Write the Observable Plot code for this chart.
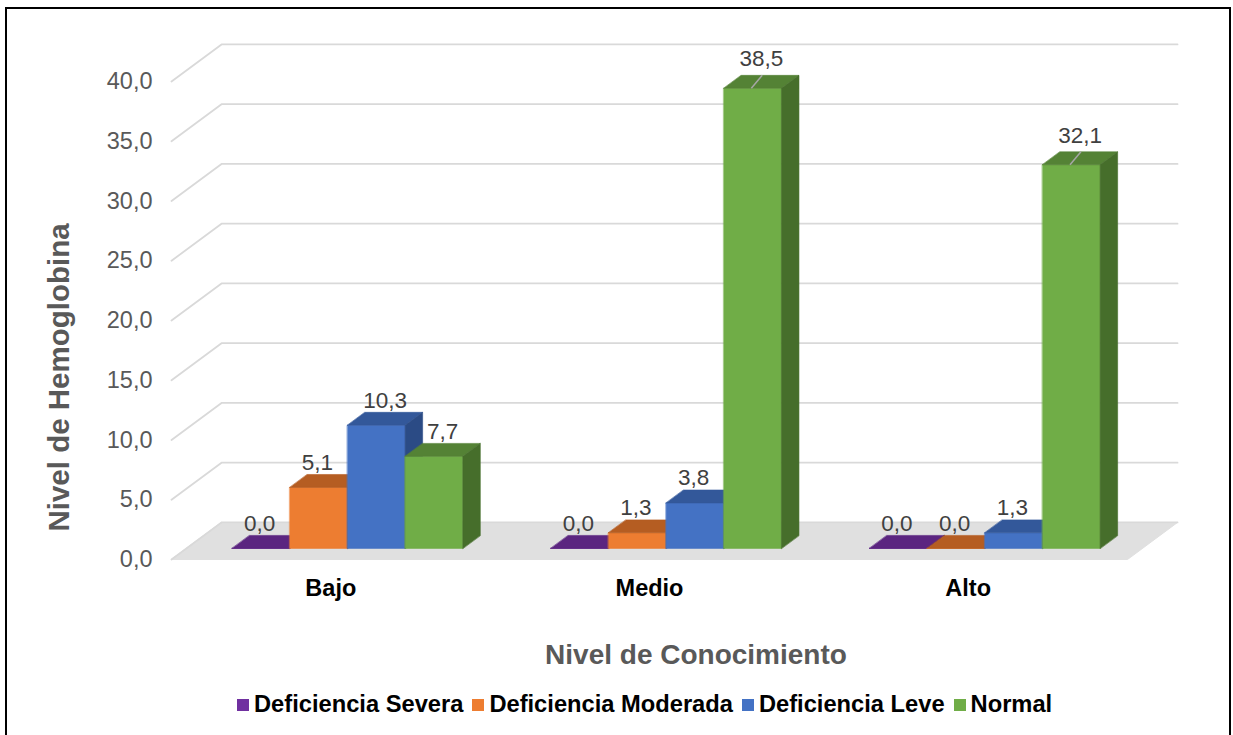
<!DOCTYPE html>
<html>
<head>
<meta charset="utf-8">
<script src="https://cdn.jsdelivr.net/npm/d3@7"></script>
<script src="https://cdn.jsdelivr.net/npm/@observablehq/plot@0.6"></script>
<style>
html, body { margin: 0; padding: 0; overflow: hidden; background: #fff; width: 1233px; height: 735px; }
body { position: relative; font-family: Arial, "Liberation Sans", sans-serif; }
#chart { position: absolute; left: 0; top: 0; }
#frame { position: absolute; left: 5px; top: 7px; width: 1226px; height: 740px; border: 2px solid #000; box-sizing: border-box; pointer-events: none; }
#xtitle { position: absolute; left: 396px; width: 600px; top: 641px; text-align: center; font-weight: bold; font-size: 28px; line-height: 28px; color: #595959; font-family: Arial, "Liberation Sans", sans-serif; }
#legend { position: absolute; left: 237px; top: 691px; }
#legend .lg-swatches { font-family: Arial, "Liberation Sans", sans-serif; font-size: 23.7px; font-weight: bold; color: #000; margin: 0; min-height: 0; flex-wrap: nowrap; width: 1000px; }
#legend .lg-swatch { margin-right: 9px; }
#legend .lg-swatch > svg { margin-right: 5px; }
</style>
</head>
<body>
<div id="chart"></div>
<div id="xtitle">Nivel de Conocimiento</div>
<div id="legend"></div>
<div id="frame"></div>
<script>
// ---- Data ----
const categories = ["Bajo", "Medio", "Alto"];
const series = ["Deficiencia Severa", "Deficiencia Moderada", "Deficiencia Leve", "Normal"];
const severa   = [0.0, 0.0, 0.0];
const moderada = [5.1, 1.3, 0.0];
const leve     = [10.3, 3.8, 1.3];
const normal   = [7.7, 38.5, 32.1];
const yTicks = [0, 5, 10, 15, 20, 25, 30, 35, 40];

// ---- Styles ----
const frontColors = ["#7030a0", "#ed7d31", "#4472c4", "#70ad47"];
const topColors   = ["#5b2580", "#b55d22", "#33589a", "#548235"];
const sideColors  = ["#4a1e6a", "#9c4f1b", "#2b4b85", "#466e2b"];

// ---- 3D geometry (in data units) ----
const DEPTH_X = 0.157;  // category units for full floor depth
const DEPTH_Y = 3.10;   // value units for full floor depth
const Z0 = 0.30, Z1 = 0.65; // bar front / back depth
const BAR_W = 0.181;
const GROUP_SHIFT = 0.005;

const seriesValues = [severa, moderada, leve, normal];
const bars = categories.flatMap((c, i) => series.map((s, j) => {
  const x0 = i - 2 * BAR_W + GROUP_SHIFT + j * BAR_W;
  return {cat: c, i, j, s, v: seriesValues[j][i], x0, x1: x0 + BAR_W};
}));

const P = (x, y, z) => ({x: x + z * DEPTH_X, y: y + z * DEPTH_Y});

// floor polygon
const floor = [[-0.5, 0, 0], [2.5, 0, 0], [2.5, 0, 1], [-0.5, 0, 1]].map(([x, y, z]) => P(x, y, z));

// gridlines (left side wall + back wall)
const grid = yTicks.flatMap(t => [[-0.5, t, 0], [-0.5, t, 1], [2.5, t, 1]].map(([x, y, z]) => ({t, ...P(x, y, z)})));

// bar faces
const faces = [];
bars.forEach((b, k) => {
  const {x0, x1, v, j} = b;
  const add = (name, color, pts) => pts.forEach(([x, y, z]) => faces.push({id: `${k}-${name}`, color, ...P(x, y, z)}));
  add("front", frontColors[j], [[x0, 0, Z0], [x1, 0, Z0], [x1, v, Z0], [x0, v, Z0]]);
  add("top", topColors[j], [[x0, v, Z0], [x1, v, Z0], [x1, v, Z1], [x0, v, Z1]]);
  add("side", sideColors[j], [[x1, 0, Z0], [x1, v, Z0], [x1, v, Z1], [x1, 0, Z1]]);
});

const fmt = v => v.toFixed(1).replace(".", ",");
const frontCenter = b => (b.x0 + b.x1) / 2 + Z0 * DEPTH_X;
const labelX = b => frontCenter(b) + (b.v > 7 ? (Z1 - Z0) * DEPTH_X / 2 : -0.004);
const topBackY = b => b.v + Z1 * DEPTH_Y;
const tall = bars.filter(b => b.v > 20);
const shortBars = bars.filter(b => b.v <= 20);

const chart = Plot.plot({
  width: 1233,
  height: 640,
  marginLeft: 171,
  marginRight: 106,
  marginTop: 81,
  marginBottom: 81,
  x: {domain: [-0.5, 2.5]},
  y: {domain: [0, 40]},
  color: {type: "identity"},
  style: {fontFamily: "Arial, 'Liberation Sans', sans-serif", background: "transparent", overflow: "visible"},
  marks: [
    Plot.line(floor, {x: "x", y: "y", fill: "#e0e0e0", stroke: "#e0e0e0", strokeWidth: 1, curve: "linear-closed"}),
    Plot.line(grid, {x: "x", y: "y", z: "t", stroke: "#d9d9d9", strokeWidth: 1.8}),
    Plot.line(faces, {x: "x", y: "y", z: "id", fill: "color", stroke: "color", strokeWidth: 0.6, curve: "linear-closed"}),
    Plot.link(tall, {
      x1: b => frontCenter(b) - 0.004, y1: b => b.v + Z0 * DEPTH_Y,
      x2: b => frontCenter(b) + (Z1 - Z0) * DEPTH_X * 0.55, y2: b => topBackY(b),
      stroke: "#a6a6a6", strokeWidth: 1.5
    }),
    Plot.text(shortBars, {x: labelX, y: topBackY, text: b => fmt(b.v), dy: -12, fontSize: 22.5, fill: "#404040"}),
    Plot.text(tall, {x: labelX, y: topBackY, text: b => fmt(b.v), dy: -16.5, fontSize: 22.5, fill: "#404040"}),
    Plot.axisY(yTicks, {tickSize: 0, tickPadding: 19, tickFormat: fmt, fontSize: 23.5, fill: "#595959", label: null}),
    Plot.axisX([0, 1, 2], {tickSize: 0, tickPadding: 20, tickFormat: i => categories[i], fontSize: 23.5, fontWeight: "bold", fill: "#000", label: null}),
    Plot.text(["Nivel de Hemoglobina"], {text: d => d, frameAnchor: "left", textAnchor: "middle", rotate: -90, dx: -112, dy: 57, fontSize: 29.5, fontWeight: "bold", fill: "#595959"})
  ]
});
document.getElementById("chart").appendChild(chart);

const legend = Plot.legend({
  color: {type: "ordinal", domain: series, range: frontColors},
  legend: "swatches",
  swatchSize: 12,
  className: "lg"
});
document.getElementById("legend").appendChild(legend);
</script>
</body>
</html>
